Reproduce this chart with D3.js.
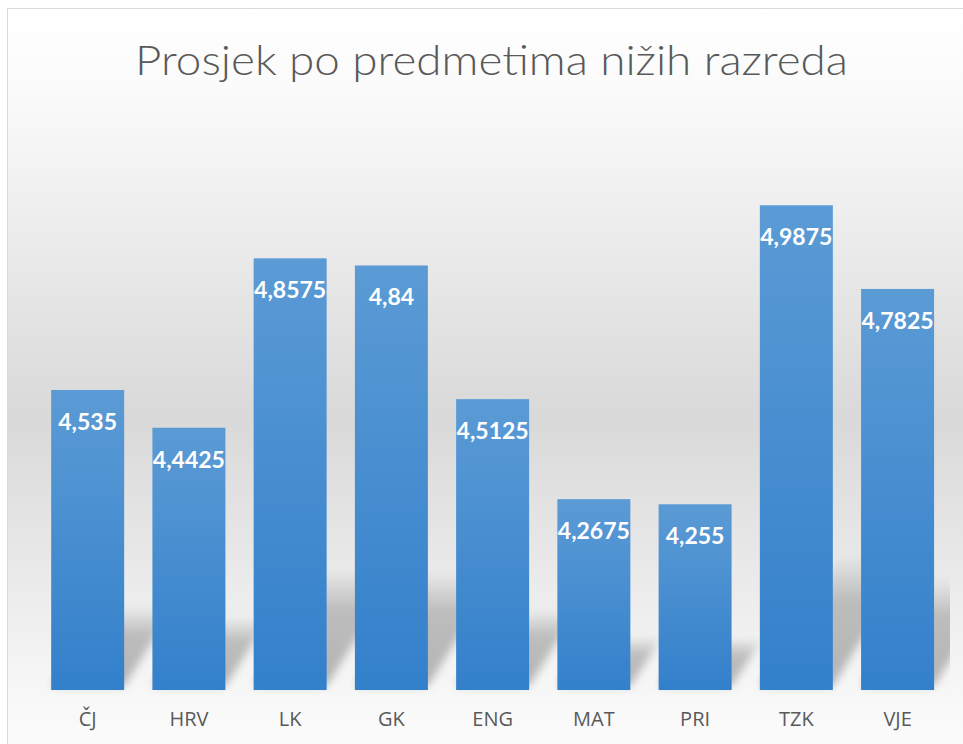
<!DOCTYPE html>
<html><head><meta charset="utf-8">
<script src="https://cdn.jsdelivr.net/npm/d3@7"></script>
<style>html,body{margin:0;padding:0;background:#fff;}svg{display:block;}</style>
</head><body>
<script>
const categories = ["ČJ","HRV","LK","GK","ENG","MAT","PRI","TZK","VJE"];
const values = [4.535, 4.4425, 4.8575, 4.84, 4.5125, 4.2675, 4.255, 4.9875, 4.7825];
const valueLabels = ["4,535","4,4425","4,8575","4,84","4,5125","4,2675","4,255","4,9875","4,7825"];
const title = "Prosjek po predmetima nižih razreda";
const yDomain = [3.8, 5.2];

const W = 963, H = 744;
const svg = d3.select("body").append("svg").attr("width", W).attr("height", H);
const defs = svg.append("defs");

const bg = defs.append("linearGradient").attr("id","bg").attr("x1",0).attr("x2",0).attr("y1",0).attr("y2",1);
[[0,"#ffffff"],[0.12,"#fafafa"],[0.3,"#ececec"],[0.55,"#d9d9d9"],[0.75,"#e9e9e9"],[0.93,"#f8f8f8"],[1,"#fcfcfc"]]
  .forEach(([o,c])=>bg.append("stop").attr("offset",o).attr("stop-color",c));

const bar = defs.append("linearGradient").attr("id","bar").attr("x1",0).attr("x2",0).attr("y1",0).attr("y2",1);
bar.append("stop").attr("offset",0).attr("stop-color","#5b9bd5");
bar.append("stop").attr("offset",1).attr("stop-color","#3380cb");

const sh = defs.append("linearGradient").attr("id","sh").attr("x1",0).attr("x2",0).attr("y1",0).attr("y2",1);
sh.append("stop").attr("offset",0).attr("stop-color","#b4b4b4").attr("stop-opacity",0);
sh.append("stop").attr("offset",0.35).attr("stop-color","#b4b4b4").attr("stop-opacity",0.85);
sh.append("stop").attr("offset",1).attr("stop-color","#b4b4b4").attr("stop-opacity",1);

const blur = defs.append("filter").attr("id","blur").attr("x","-30%").attr("y","-30%").attr("width","160%").attr("height","160%");
blur.append("feGaussianBlur").attr("stdDeviation",4);

const clip = defs.append("clipPath").attr("id","plotclip");
clip.append("rect").attr("x",8).attr("y",8).attr("width",942).attr("height",700);

// chart area background and border
svg.append("rect").attr("x",7.5).attr("y",8.5).attr("width",W).attr("height",H)
  .attr("fill","url(#bg)").attr("stroke","#d9d9d9").attr("stroke-width",1);

const x = d3.scaleBand().domain(categories).range([37, 37 + 9*101.25]).paddingInner(0.279).paddingOuter(0.14);
const y = d3.scaleLinear().domain(yDomain).range([690, 690 - (yDomain[1]-yDomain[0])*408.2]);
const base = y(yDomain[0]);

// perspective shadows
const sG = svg.append("g").attr("clip-path","url(#plotclip)").attr("filter","url(#blur)");
const s = 0.28, k = 0.6;
sG.selectAll("path").data(categories).enter().append("path")
  .attr("d",(c,i)=>{
    const x0 = x(c), x1 = x(c)+x.bandwidth();
    const h = (base - y(values[i]))*s;
    return `M${x0},${base-4} L${x1},${base-4} L${x1+h*k},${base-h} L${x0+h*k},${base-h} Z`;
  })
  .attr("fill","url(#sh)");

// bars
svg.append("g").selectAll("rect").data(categories).enter().append("rect")
  .attr("x",c=>x(c)).attr("width",x.bandwidth())
  .attr("y",(c,i)=>y(values[i])).attr("height",(c,i)=>base-y(values[i]))
  .attr("fill","url(#bar)");

// value labels
svg.append("g").selectAll("text").data(categories).enter().append("text")
  .attr("x",c=>x(c)+x.bandwidth()/2).attr("y",(c,i)=>y(values[i])+40)
  .attr("text-anchor","middle").attr("fill","#ffffff")
  .style("font-family","Lato, 'Open Sans', sans-serif").style("font-weight","bold").style("font-size","23px")
  .text((c,i)=>valueLabels[i]);

// x axis
const xAxis = svg.append("g").attr("transform",`translate(0,${base})`).call(d3.axisBottom(x).tickSize(0).tickPadding(22));
xAxis.select(".domain").remove();
xAxis.selectAll("text").attr("fill","#595959")
  .style("font-family","'Open Sans', sans-serif").style("font-size","20px");

// title
svg.append("text").attr("x",491.5).attr("y",75).attr("text-anchor","middle")
  .attr("fill","#595959").attr("textLength",713).attr("lengthAdjust","spacingAndGlyphs")
  .style("font-family","Lato, sans-serif").style("font-weight","300").style("font-size","42px")
  .text(title);
</script>
</body></html>
